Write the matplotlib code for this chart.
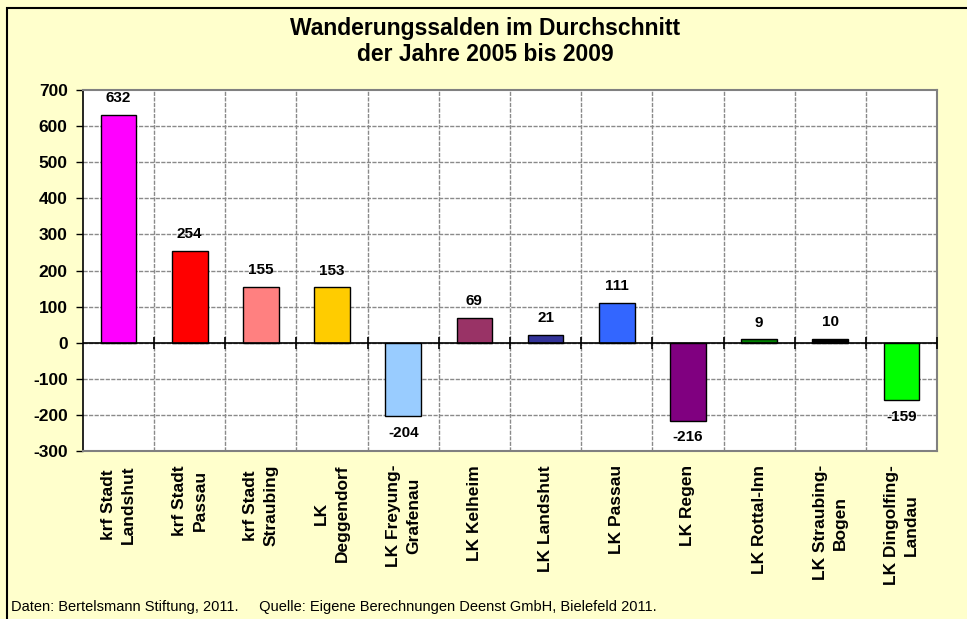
import numpy as np
import matplotlib
matplotlib.use("Agg")
import matplotlib.pyplot as plt
from matplotlib.patches import Rectangle

plt.rcParams['font.family'] = ['Liberation Sans', 'DejaVu Sans']

# Daten
regionen = ['krf Stadt\nLandshut', 'krf Stadt\nPassau', 'krf Stadt\nStraubing',
            'LK\nDeggendorf', 'LK Freyung-\nGrafenau', 'LK Kelheim', 'LK Landshut',
            'LK Passau', 'LK Regen', 'LK Rottal-Inn', 'LK Straubing-\nBogen',
            'LK Dingolfing-\nLandau']
salden = [632, 254, 155, 153, -204, 69, 21, 111, -216, 9, 10, -159]
farben = ['#FF00FF', '#FF0000', '#FF8080', '#FFCC00', '#99CCFF', '#993366',
          '#333399', '#3366FF', '#800080', '#008000', '#000000', '#00FF00']
y_ticks = [-300, -200, -100, 0, 100, 200, 300, 400, 500, 600, 700]

titel = 'Wanderungssalden im Durchschnitt\nder Jahre 2005 bis 2009'
fussnote = ('Daten: Bertelsmann Stiftung, 2011.     '
            'Quelle: Eigene Berechnungen Deenst GmbH, Bielefeld 2011.')

hintergrund = '#FFFFCC'

fig = plt.figure(figsize=(9.67, 6.19), dpi=100)
fig.patch.set_facecolor(hintergrund)
ax = fig.add_axes([0.0858, 0.2714, 0.969 - 0.0858, 0.8546 - 0.2714])
ax.set_facecolor('white')

x = np.arange(len(salden))
ax.bar(x, salden, width=0.5, color=farben, edgecolor='black', linewidth=1, zorder=3)

# Werte an den Balken
for xi, wert in zip(x, salden):
    if wert >= 0:
        ax.annotate(str(wert), (xi, wert), xytext=(0, 7), textcoords='offset points',
                    ha='center', va='bottom', fontsize=11, fontweight='bold', zorder=4)
    else:
        ax.annotate(str(wert), (xi, wert), xytext=(0, -7), textcoords='offset points',
                    ha='center', va='top', fontsize=11, fontweight='bold', zorder=4)

ax.set_xlim(-0.5, len(salden) - 0.5)
ax.set_ylim(-300, 700)
ax.set_yticks(y_ticks)
ax.set_yticklabels([str(t) for t in y_ticks], fontsize=12.5, fontweight='bold')
ax.tick_params(axis='y', direction='out', length=5, width=1, pad=6, color='black')

# Gitternetz
grenzen = np.arange(len(salden) + 1) - 0.5
for g in grenzen[1:-1]:
    ax.axvline(g, color='#8a8a8a', linewidth=1.0, linestyle=(0, (3, 1)), zorder=1)
for t in y_ticks[1:-1]:
    ax.axhline(t, color='#8a8a8a', linewidth=1.0, linestyle=(0, (3, 1)), zorder=1)

# Nulllinie mit Teilstrichen
ax.axhline(0, color='black', linewidth=1.2, zorder=4)
ax.plot(grenzen[1:], np.zeros(len(grenzen) - 1), linestyle='none', marker='|',
        markersize=9, markeredgewidth=1.2, color='black', zorder=4, clip_on=False)

# Achsenbeschriftung
ax.set_xticks(x)
ax.set_xticklabels(regionen, rotation=90, ha='center', va='top', multialignment='center',
                   fontsize=12.5, fontweight='bold', linespacing=1.45)
ax.tick_params(axis='x', length=0, pad=10)

for s in ['top', 'right', 'bottom']:
    ax.spines[s].set_color('#808080')
    ax.spines[s].set_linewidth(1.5)
ax.spines['left'].set_color('black')
ax.spines['left'].set_linewidth(1.2)

fig.text(0.502, 0.972, titel, ha='center', va='top', fontsize=16.5,
         fontweight='bold', linespacing=1.15)

fig.text(0.011, 0.02, fussnote, ha='left', va='center', fontsize=10.5,
         family=['Liberation Sans Narrow', 'Liberation Sans'])

# Rahmen
fig.patches.append(Rectangle((7 / 967, -0.1), 1.2, 1.1 - 8 / 619, transform=fig.transFigure,
                             fill=False, edgecolor='black', linewidth=1.5))

fig.savefig('out.png', dpi=100, facecolor=hintergrund)
